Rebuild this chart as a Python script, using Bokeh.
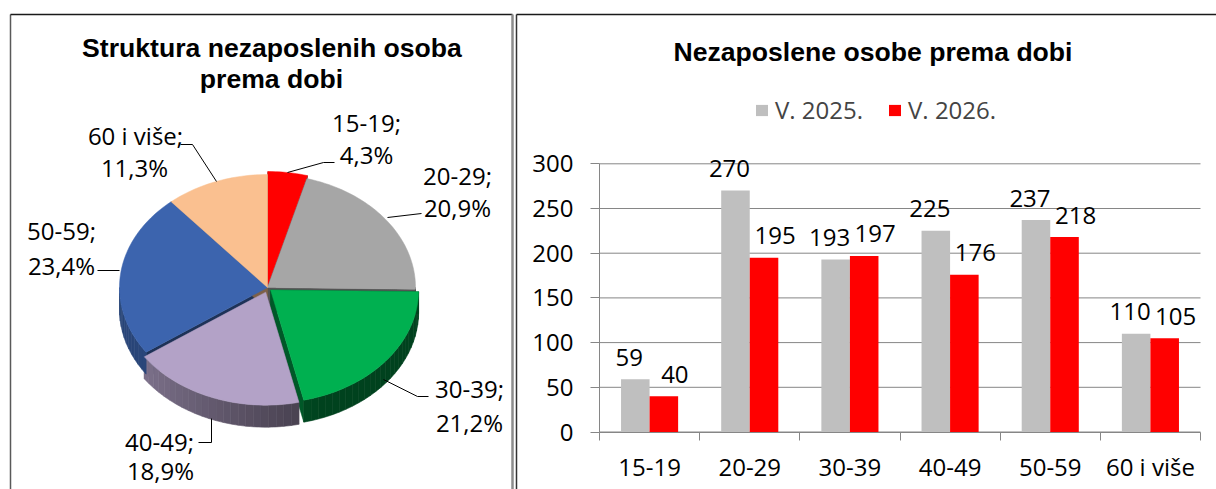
import numpy as np
from bokeh.plotting import figure
from bokeh.models import (Range1d, FixedTicker, Legend, LegendItem, LinearAxis,
                          ColumnDataSource)
from bokeh.transform import dodge
from bokeh.core.properties import value
from bokeh.embed import file_html
from bokeh.resources import INLINE

# ---------------- data ----------------
categories = ["15-19", "20-29", "30-39", "40-49", "50-59", "60 i više"]
v2025 = [59, 270, 193, 225, 237, 110]
v2026 = [40, 195, 197, 176, 218, 105]
series_names = ["V. 2025.", "V. 2026."]
y_ticks = [0, 50, 100, 150, 200, 250, 300]
pie_title = ["Struktura nezaposlenih osoba", "prema dobi"]
bar_title = "Nezaposlene osobe prema dobi"

# ---------------- styles / layout ----------------
FONT = "Open Sans"
TFONT = "Liberation Sans"
pie_colors = ["#FF0000", "#A6A6A6", "#00B050", "#B3A2C7", "#3C64AE", "#FAC090"]
c25, c26 = "#BFBFBF", "#FF0000"
axis_col = "#868686"

W, H = 1216, 489
AX_X0, AX_X1 = 599.0, 1200.0      # canvas px of the bar axis start / end
AX_Y0, AX_YTOP = 431.5, 163.3     # canvas px of y=0 and y=300
ppu_x = (AX_X1 - AX_X0) / len(categories)
ppu_y = (AX_Y0 - AX_YTOP) / y_ticks[-1]

p = figure(width=W, height=H,
           x_range=Range1d(-AX_X0 / ppu_x, len(categories) + (W - AX_X1) / ppu_x),
           y_range=Range1d(-(H - AX_Y0) / ppu_y, y_ticks[-1] + AX_YTOP / ppu_y),
           output_backend="svg", toolbar_location=None,
           x_axis_location=None, y_axis_location=None, min_border=0)
p.extra_x_ranges = {"px": Range1d(0, W)}
p.extra_y_ranges = {"px": Range1d(H, 0)}
p.grid.visible = False
p.outline_line_color = None
PX = dict(x_range_name="px", y_range_name="px")

# ---------------- panel borders ----------------
p.segment(x0=[10, 10, 516, 516], y0=[14, 14, 14, 14], x1=[10, 512, 516, W], y1=[H, 14, H, 14],
          line_color=["#595959", "#1a1a1a", "#333333", "#1a1a1a"], line_width=1.5, **PX)
p.segment(x0=[512], y0=[14], x1=[512], y1=[H], line_color="#8c8c8c", line_width=2.5, **PX)

# ---------------- 3D pie ----------------
CX, CY, RX, RY, DEPTH = 267, 287, 148, 113, 22
explode = [3, 0, 4, 5, 0, 0]

total = float(sum(v2026))
shares = np.array(v2026) / total
cum = np.concatenate([[0.0], np.cumsum(shares)]) * 2 * np.pi


def hex2rgb(h):
    h = h.lstrip("#")
    return [int(h[i:i + 2], 16) for i in (0, 2, 4)]


def darken(h, f):
    r, g, b = hex2rgb(h)
    return "#%02x%02x%02x" % (int(r * f), int(g * f), int(b * f))


def shade_factor(t):
    d = np.degrees(t)
    return 0.38 + 0.32 * float(np.clip((d - 160) / 75.0, 0, 1))


def arc(a0, a1, dx, dy):
    n = max(2, int(np.ceil((a1 - a0) * 40)) + 1)
    t = np.linspace(a0, a1, n)
    return list(CX + dx + RX * np.sin(t)), list(CY + dy - RY * np.cos(t))


offs = []
for i in range(len(v2026)):
    mid = (cum[i] + cum[i + 1]) / 2
    offs.append((explode[i] * np.sin(mid), -explode[i] * np.cos(mid)))

wx, wy, wc = [], [], []
for i in range(len(v2026)):
    dx, dy = offs[i]
    for a in (cum[i], cum[i + 1]):
        px_, py_ = CX + dx + RX * np.sin(a), CY + dy - RY * np.cos(a)
        wx.append([CX + dx, px_, px_, CX + dx])
        wy.append([CY + dy, py_, py_ + DEPTH, CY + dy + DEPTH])
        wc.append(darken(pie_colors[i], 0.5))
p.patches(wx, wy, fill_color=wc, line_color=wc, line_width=0.5, **PX)

sx, sy, sc = [], [], []
for i in range(len(v2026)):
    dx, dy = offs[i]
    lo, hi = max(cum[i], np.pi / 2), min(cum[i + 1], 1.5 * np.pi)
    if hi <= lo:
        continue
    k = max(1, int(np.ceil(np.degrees(hi - lo) / 3)))
    edges = np.linspace(lo, hi, k + 1)
    for e0, e1 in zip(edges[:-1], edges[1:]):
        ax_, ay_ = arc(e0, e1, dx, dy)
        sx.append(ax_ + ax_[::-1])
        sy.append(ay_ + [y + DEPTH for y in ay_[::-1]])
        sc.append(darken(pie_colors[i], shade_factor((e0 + e1) / 2)))
p.patches(sx, sy, fill_color=sc, line_color=sc, line_width=0.6, **PX)

tx, ty = [], []
for i in range(len(v2026)):
    dx, dy = offs[i]
    ax_, ay_ = arc(cum[i], cum[i + 1], dx, dy)
    tx.append([CX + dx] + ax_)
    ty.append([CY + dy] + ay_)
p.patches(tx, ty, fill_color=pie_colors, line_color=pie_colors, line_width=0.5, **PX)

# leader lines and labels (layout positions, canvas px)
leaders_x = [[287, 323, 334], [387, 421], [383, 417, 428], [211, 211, 198], [119, 97], [216, 192, 180]]
leaders_y = [[172, 162, 162], [217, 213], [379, 396, 396], [418, 442, 442], [270, 270], [181, 144, 144]]
p.multi_line(leaders_x, leaders_y, line_color="black", line_width=1, **PX)

name_pos = [(366, 122), (457, 175), (469, 388), (159, 441), (61, 230), (135, 135)]
pct_pos = [(366, 154), (457, 207), (469, 422), (160, 470), (61, 265), (134, 167)]
name_txt = [c + ";" for c in categories]
pct_txt = [("%.1f%%" % (s * 100)).replace(".", ",") for s in shares]
p.text(x=[q[0] for q in name_pos], y=[q[1] for q in name_pos], text=name_txt,
       text_align="center", text_baseline="middle", text_font=value(FONT),
       text_font_size="24px", text_color="black", **PX)
p.text(x=[q[0] for q in pct_pos], y=[q[1] for q in pct_pos], text=pct_txt,
       text_align="center", text_baseline="middle", text_font=value(FONT),
       text_font_size="24px", text_color="black", **PX)
p.text(x=[271.5, 271, 872.5], y=[47, 78, 51.7], text=pie_title + [bar_title],
       text_align="center", text_baseline="middle",
       text_font=value(TFONT), text_font_style="bold", text_font_size="26.6px",
       text_color="black", **PX)

# ---------------- bar chart ----------------
p.segment(x0=0, x1=len(categories), y0=y_ticks, y1=y_ticks, line_color=axis_col, line_width=1)

xc = [i + 0.5 for i in range(len(categories))]
src = ColumnDataSource(dict(x=xc, v25=v2025, v26=v2026,
                            l25=[str(v) for v in v2025], l26=[str(v) for v in v2026]))
bw = 0.285
r1 = p.vbar(x=dodge("x", -bw / 2), top="v25", width=bw, source=src, fill_color=c25, line_color=None)
r2 = p.vbar(x=dodge("x", bw / 2), top="v26", width=bw, source=src, fill_color=c26, line_color=None)

p.text(x=dodge("x", -bw / 2), y="v25", text="l25", source=src, x_offset=-6, y_offset=-22,
       text_align="center", text_baseline="middle", text_font=value(FONT),
       text_font_size="24px", text_color="black")
p.text(x=dodge("x", bw / 2), y="v26", text="l26", source=src, x_offset=11, y_offset=-22,
       text_align="center", text_baseline="middle", text_font=value(FONT),
       text_font_size="24px", text_color="black")

ya = LinearAxis(fixed_location=0, bounds=(0, y_ticks[-1]), ticker=FixedTicker(ticks=y_ticks))
ya.axis_line_color = axis_col
ya.major_tick_line_color = axis_col
ya.major_tick_out = 9
ya.major_tick_in = 0
ya.minor_tick_line_color = None
ya.major_label_standoff = 17
ya.major_label_text_font = FONT
ya.major_label_text_font_size = "24px"
ya.major_label_text_color = "black"
p.add_layout(ya, "left")

xa = LinearAxis(fixed_location=0, bounds=(0, len(categories)),
                ticker=FixedTicker(ticks=xc, minor_ticks=list(range(len(categories) + 1))))
xa.major_label_overrides = {x: c for x, c in zip(xc, categories)}
xa.axis_line_color = axis_col
xa.major_tick_line_color = None
xa.major_tick_out = 0
xa.major_tick_in = 0
xa.minor_tick_line_color = axis_col
xa.minor_tick_out = 8
xa.minor_tick_in = 0
xa.major_label_standoff = 10
xa.major_label_text_font = FONT
xa.major_label_text_font_size = "24px"
xa.major_label_text_color = "black"
p.add_layout(xa, "below")

legend = Legend(items=[LegendItem(label=series_names[0], renderers=[r1]),
                       LegendItem(label=series_names[1], renderers=[r2])],
                orientation="horizontal", location=(754, 362.8),
                glyph_width=15, glyph_height=14, label_standoff=6, spacing=24,
                padding=0, margin=0, border_line_color=None, background_fill_alpha=0,
                label_text_font=FONT, label_text_font_size="24px")
p.add_layout(legend)

open("out.html", "w").write(file_html(p, INLINE))
